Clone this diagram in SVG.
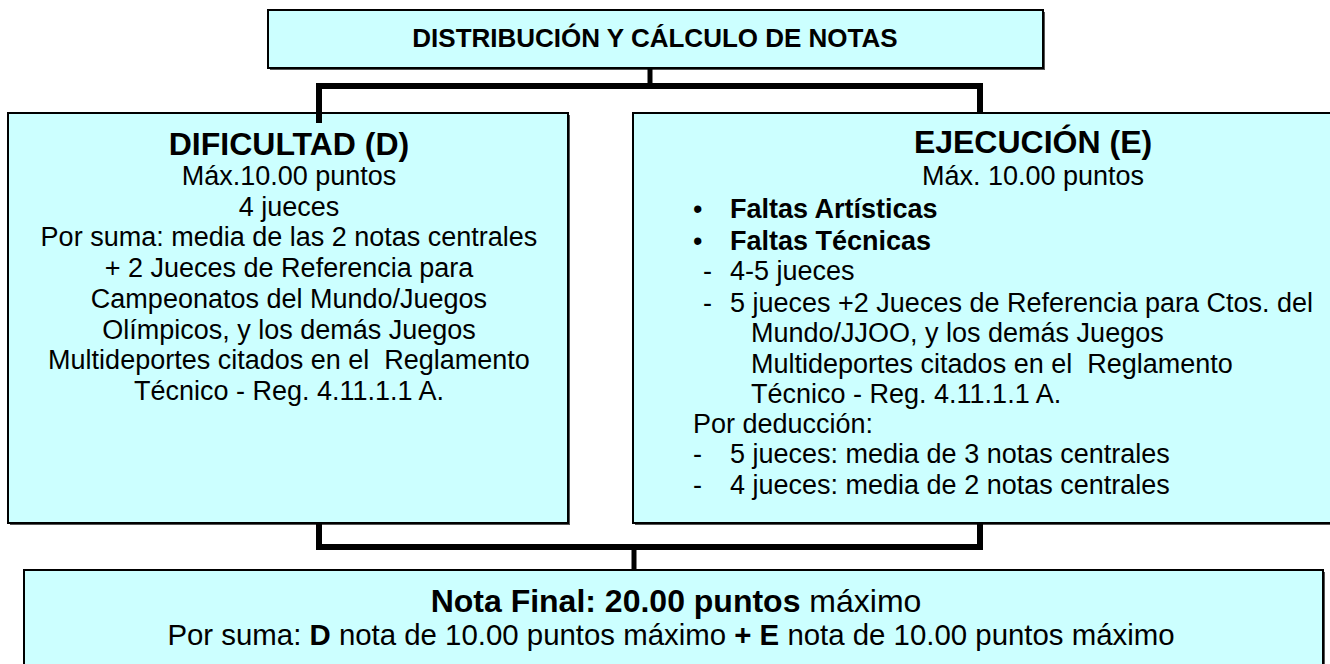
<svg xmlns="http://www.w3.org/2000/svg" width="1330" height="664" viewBox="0 0 1330 664">
<style>
.box{fill:#CCFFFF;stroke:#000;stroke-width:2}
.sh{fill:#555}
.t{font-family:"Liberation Sans",Arial,sans-serif;fill:#000}
.b{font-weight:bold}
.c{text-anchor:middle}
.body{font-size:27px}
.ttl{font-size:32px;font-weight:bold}
.conn{stroke:#000;fill:none;stroke-linecap:butt}
</style>
<rect width="1330" height="664" fill="#fff"/>
<g id="top">
<rect class="sh" x="270" y="12" width="775" height="58"/>
<rect class="box" x="268" y="10" width="775" height="58"/>
<text class="t b c" x="655" y="47" font-size="26">DISTRIBUCIÓN Y CÁLCULO DE NOTAS</text>
</g>
<g id="dificultad">
<rect class="sh" x="10" y="115" width="560" height="410"/>
<rect class="box" x="8" y="113" width="560" height="410"/>
<text class="t ttl c" x="289" y="155">DIFICULTAD (D)</text>
<g class="t body c">
<text x="289" y="185">Máx.10.00 puntos</text>
<text x="289" y="215.7">4 jueces</text>
<text x="289" y="246.4">Por suma: media de las 2 notas centrales</text>
<text x="289" y="277.1">+ 2 Jueces de Referencia para</text>
<text x="289" y="307.8">Campeonatos del Mundo/Juegos</text>
<text x="289" y="338.5">Olímpicos, y los demás Juegos</text>
<text x="289" y="369.2" xml:space="preserve">Multideportes citados en el  Reglamento</text>
<text x="289" y="399.9">Técnico - Reg. 4.11.1.1 A.</text>
</g>
</g>
<g id="ejecucion">
<rect class="sh" x="635" y="115" width="710" height="410"/>
<rect class="box" x="633" y="113" width="710" height="410"/>
<text class="t ttl c" x="1033" y="153">EJECUCIÓN (E)</text>
<g class="t body">
<text x="1033" y="185" text-anchor="middle">Máx. 10.00 puntos</text>
<text x="693" y="218">•</text><text x="730" y="218" font-weight="bold">Faltas Artísticas</text>
<text x="693" y="250">•</text><text x="730" y="250" font-weight="bold">Faltas Técnicas</text>
<text x="703" y="280">-</text><text x="730" y="280">4-5 jueces</text>
<text x="703" y="312">-</text><text x="730" y="312">5 jueces +2 Jueces de Referencia para Ctos. del</text>
<text x="751" y="342">Mundo/JJOO, y los demás Juegos</text>
<text x="751" y="373" xml:space="preserve">Multideportes citados en el  Reglamento</text>
<text x="751" y="403">Técnico - Reg. 4.11.1.1 A.</text>
<text x="693" y="433">Por deducción:</text>
<text x="693" y="463">-</text><text x="730" y="463">5 jueces: media de 3 notas centrales</text>
<text x="693" y="494">-</text><text x="730" y="494">4 jueces: media de 2 notas centrales</text>
</g>
</g>
<g id="final">
<rect class="sh" x="26" y="572" width="1299" height="110"/>
<rect class="box" x="24" y="570" width="1299" height="110"/>
<text class="t c" x="676" y="612" font-size="32"><tspan font-weight="bold">Nota Final: 20.00 puntos</tspan> máximo</text>
<text class="t c" x="671" y="645" font-size="29.4">Por suma: <tspan font-weight="bold">D</tspan> nota de 10.00 puntos máximo <tspan font-weight="bold">+ E</tspan> nota de 10.00 puntos máximo</text>
</g>
<g id="connectors" class="conn">
<path d="M650 68 V86" stroke-width="5"/>
<path d="M319 123 V86 H980 V113" stroke-width="6"/>
<path d="M319 523 V547 H980 V523" stroke-width="6"/>
<path d="M634 547 V570" stroke-width="5"/>
</g>
</svg>
